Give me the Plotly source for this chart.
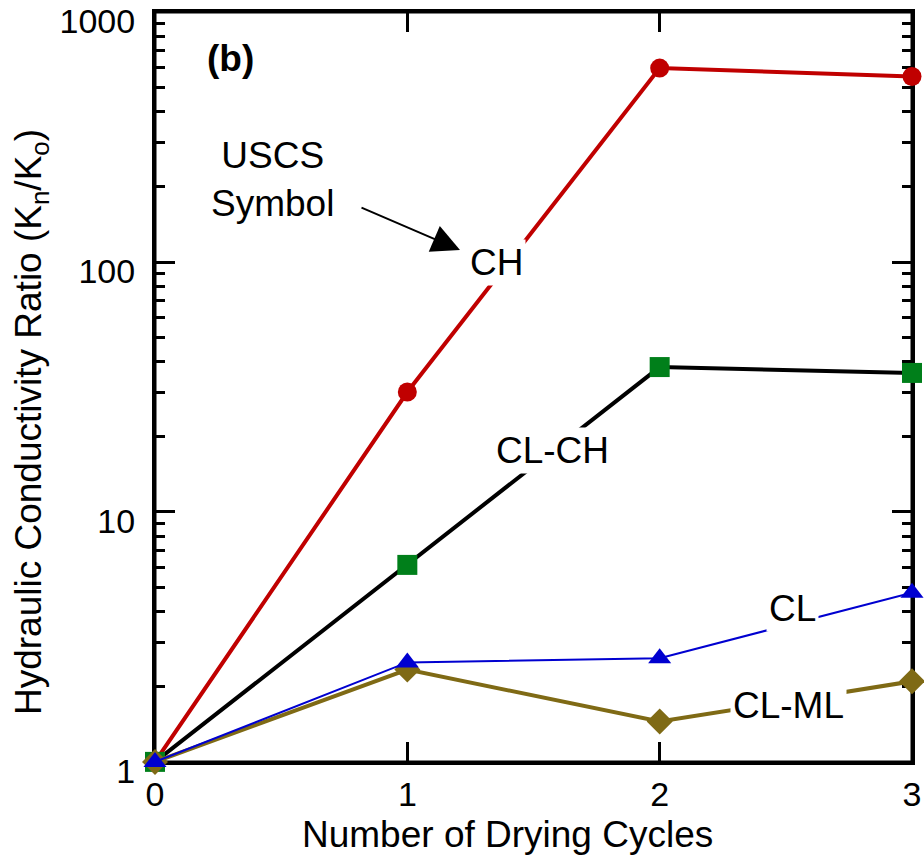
import plotly.graph_objects as go

cycles = [0, 1, 2, 3]
ch = [1.0, 30.2, 597, 553]
cl_ch = [1.0, 6.14, 38.0, 36.0]
cl_ml = [1.0, 2.34, 1.45, 2.1]
cl = [1.0, 2.5, 2.6, 4.75]

y_tickvals = [1, 10, 100, 1000]
y_ticktext = ["1", "10", "100", "1000"]
y_minor = [m * 10 ** d for d in range(3) for m in range(2, 10)]
x_tickvals = [0, 1, 2, 3]

W, H = 924, 857
L, R, T, B = 155, 12, 12, 95
PW, PH = W - L - R, H - T - B

def px(xp):
    return (xp - L) / PW

def py(yp):
    return (H - B - yp) / PH

FONT = "Liberation Sans, Arial, sans-serif"

fig = go.Figure()
series = [
    (ch, "CH", "#C00000", 4, "circle", 19, "#C00000"),
    (cl_ch, "CL-CH", "#000000", 4, "square", 20, "#007F1A"),
    (cl_ml, "CL-ML", "#7F6A15", 4, "diamond", 20, "#7F6A15"),
    (cl, "CL", "#0000D0", 2, "triangle-up", 20, "#0000D0"),
]
for vals, name, lc, lw, sym, ms, mc in series:
    fig.add_trace(go.Scatter(x=cycles, y=vals, mode="lines+markers", name=name,
                             line=dict(color=lc, width=lw),
                             marker=dict(symbol=sym, size=ms, color=mc),
                             cliponaxis=False))

axis_common = dict(showline=True, linecolor="black", linewidth=3, mirror="allticks",
                   ticks="inside", ticklen=20, tickwidth=3, tickcolor="black",
                   showgrid=False, zeroline=False, automargin=False,
                   layer="below traces",
                   tickfont=dict(family=FONT, size=34, color="black"))

fig.update_xaxes(range=[0, 3], tickvals=x_tickvals, ticklabelstandoff=0, **axis_common)
fig.update_yaxes(type="log", range=[-0.0005, 3.0005], tickvals=y_tickvals,
                 ticktext=y_ticktext, ticklabelshift=9, ticklabelstandoff=10,
                 minor=dict(ticks="inside", ticklen=10, tickwidth=3, tickcolor="black",
                            tickmode="array", tickvals=y_minor, showgrid=False),
                 **axis_common)

# plot frame
fig.add_shape(type="rect", xref="paper", yref="paper", x0=0, x1=1, y0=0, y1=1,
              line=dict(color="black", width=3), layer="below")

labels = [
    ("(b)", 230, 58, True, False),
    ("USCS<br>Symbol", 272, 180, False, False),
    ("CH", 496, 262, False, True),
    ("CL-CH", 552, 450, False, True),
    ("CL", 792, 608, False, True),
    ("CL-ML", 788, 705, False, True),
]
anns = []
for txt, x, y, bold, bg in labels:
    anns.append(dict(text=f"<b>{txt}</b>" if bold else txt, x=px(x), y=py(y),
                     xref="paper", yref="paper", showarrow=False,
                     xanchor="center", yanchor="middle",
                     font=dict(family=FONT, size=37, color="black"),
                     bgcolor="white" if bg else "rgba(0,0,0,0)", borderpad=2))
# arrow from "Symbol" to "CH"
anns.append(dict(x=px(460), y=py(250), ax=360 - 460, ay=207 - 250,
                 xref="paper", yref="paper", axref="pixel", ayref="pixel",
                 showarrow=True, arrowhead=2, arrowsize=2.8, arrowwidth=2,
                 arrowcolor="black", text=""))
# axis titles
anns.append(dict(text="Number of Drying Cycles", x=px(507), y=py(834),
                 xref="paper", yref="paper", showarrow=False,
                 xanchor="center", yanchor="middle",
                 font=dict(family=FONT, size=37, color="black")))
anns.append(dict(text="Hydraulic Conductivity Ratio (K<sub>n</sub>/K<sub>o</sub>)",
                 x=px(31), y=py(422), xref="paper", yref="paper", showarrow=False,
                 xanchor="center", yanchor="middle", textangle=-90,
                 font=dict(family=FONT, size=37, color="black")))

fig.update_layout(width=W, height=H, margin=dict(l=L, r=R, t=T, b=B, autoexpand=False),
                  plot_bgcolor="white", paper_bgcolor="white",
                  showlegend=False, annotations=anns)

fig.write_html("out.html")
